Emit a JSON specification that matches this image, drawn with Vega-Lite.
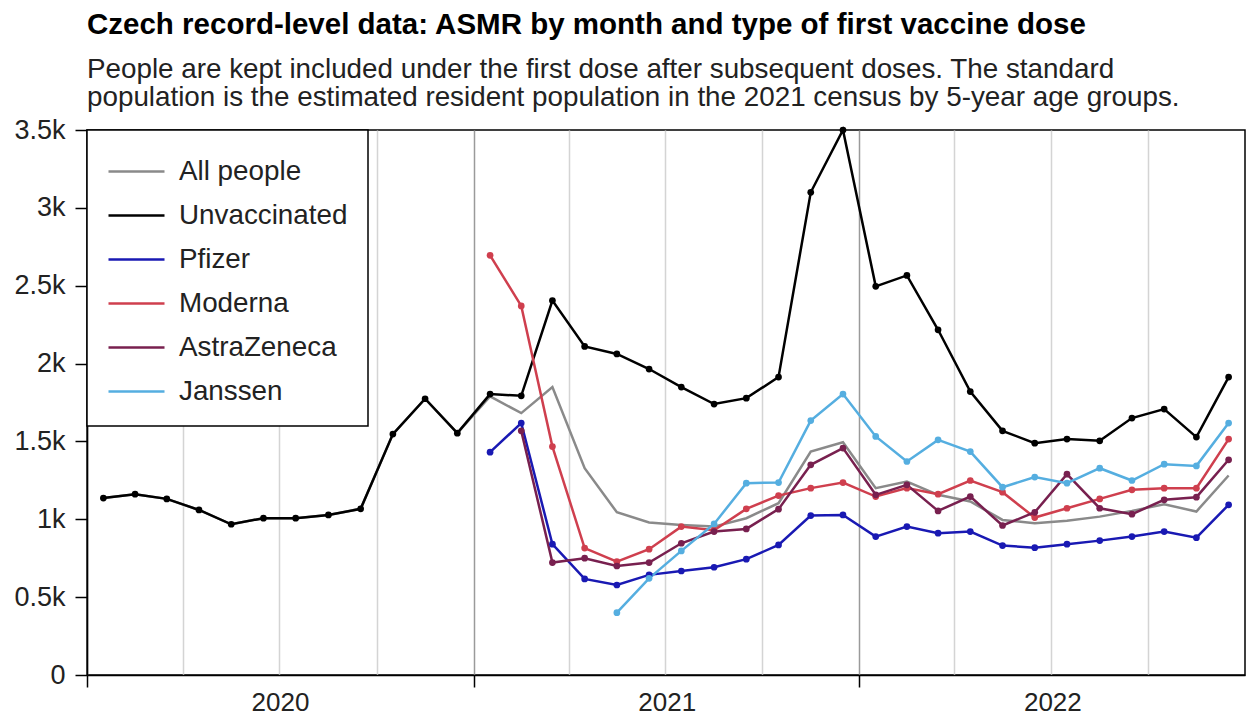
{
  "$schema": "https://vega.github.io/schema/vega-lite/v6.json",
  "autosize": "none",
  "width": 1158,
  "height": 545,
  "padding": {"left": 87, "top": 130, "right": 1, "bottom": 42},
  "background": "white",
  "title": {
    "text": "Czech record-level data: ASMR by month and type of first vaccine dose",
    "subtitle": ["People are kept included under the first dose after subsequent doses. The standard", "population is the estimated resident population in the 2021 census by 5-year age groups."],
    "anchor": "start",
    "frame": "group",
    "font": "Liberation Sans",
    "fontSize": 29.5,
    "fontWeight": "bold",
    "color": "black",
    "subtitleFont": "Liberation Sans",
    "subtitleFontSize": 27.8,
    "subtitleColor": "#222222",
    "subtitleLineHeight": 28,
    "subtitlePadding": 16,
    "offset": 3
  },
  "config": {
    "font": "Liberation Sans",
    "view": {"stroke": "black", "strokeWidth": 1.5},
    "axis": {
      "labelFont": "Liberation Sans",
      "labelFontSize": 27,
      "labelColor": "#222222",
      "domainColor": "black",
      "domainWidth": 1.5,
      "tickColor": "black",
      "tickWidth": 1.5,
      "title": null
    },
    "legend": {
      "orient": "top-left",
      "offset": 0,
      "padding": 20,
      "strokeColor": "black",
      "fillColor": "white",
      "strokeWidth": 1.5,
      "symbolType": "M-1,0H1.8",
      "symbolSize": 1600,
      "symbolStrokeWidth": 2.5,
      "labelFont": "Liberation Sans",
      "labelFontSize": 27.8,
      "labelColor": "#222222",
      "labelOffset": 29,
      "rowPadding": 8,
      "labelLimit": 400
    }
  },
  "data": {
    "values": [
      {"s": "All people", "m": "2020-01-15", "v": 1136},
      {"s": "All people", "m": "2020-02-15", "v": 1161},
      {"s": "All people", "m": "2020-03-15", "v": 1131},
      {"s": "All people", "m": "2020-04-15", "v": 1060},
      {"s": "All people", "m": "2020-05-15", "v": 968},
      {"s": "All people", "m": "2020-06-15", "v": 1007},
      {"s": "All people", "m": "2020-07-15", "v": 1007},
      {"s": "All people", "m": "2020-08-15", "v": 1028},
      {"s": "All people", "m": "2020-09-15", "v": 1067},
      {"s": "All people", "m": "2020-10-15", "v": 1547},
      {"s": "All people", "m": "2020-11-15", "v": 1774},
      {"s": "All people", "m": "2020-12-15", "v": 1553},
      {"s": "All people", "m": "2021-01-15", "v": 1789},
      {"s": "All people", "m": "2021-02-15", "v": 1682},
      {"s": "All people", "m": "2021-03-15", "v": 1849},
      {"s": "All people", "m": "2021-04-15", "v": 1328},
      {"s": "All people", "m": "2021-05-15", "v": 1045},
      {"s": "All people", "m": "2021-06-15", "v": 979},
      {"s": "All people", "m": "2021-07-15", "v": 964},
      {"s": "All people", "m": "2021-08-15", "v": 953},
      {"s": "All people", "m": "2021-09-15", "v": 1007},
      {"s": "All people", "m": "2021-10-15", "v": 1103},
      {"s": "All people", "m": "2021-11-15", "v": 1435},
      {"s": "All people", "m": "2021-12-15", "v": 1495},
      {"s": "All people", "m": "2022-01-15", "v": 1200},
      {"s": "All people", "m": "2022-02-15", "v": 1242},
      {"s": "All people", "m": "2022-03-15", "v": 1157},
      {"s": "All people", "m": "2022-04-15", "v": 1114},
      {"s": "All people", "m": "2022-05-15", "v": 996},
      {"s": "All people", "m": "2022-06-15", "v": 975},
      {"s": "All people", "m": "2022-07-15", "v": 990},
      {"s": "All people", "m": "2022-08-15", "v": 1017},
      {"s": "All people", "m": "2022-09-15", "v": 1054},
      {"s": "All people", "m": "2022-10-15", "v": 1097},
      {"s": "All people", "m": "2022-11-15", "v": 1050},
      {"s": "All people", "m": "2022-12-15", "v": 1281},

      {"s": "Unvaccinated", "m": "2020-01-15", "v": 1136},
      {"s": "Unvaccinated", "m": "2020-02-15", "v": 1161},
      {"s": "Unvaccinated", "m": "2020-03-15", "v": 1131},
      {"s": "Unvaccinated", "m": "2020-04-15", "v": 1060},
      {"s": "Unvaccinated", "m": "2020-05-15", "v": 968},
      {"s": "Unvaccinated", "m": "2020-06-15", "v": 1007},
      {"s": "Unvaccinated", "m": "2020-07-15", "v": 1007},
      {"s": "Unvaccinated", "m": "2020-08-15", "v": 1028},
      {"s": "Unvaccinated", "m": "2020-09-15", "v": 1067},
      {"s": "Unvaccinated", "m": "2020-10-15", "v": 1547},
      {"s": "Unvaccinated", "m": "2020-11-15", "v": 1774},
      {"s": "Unvaccinated", "m": "2020-12-15", "v": 1553},
      {"s": "Unvaccinated", "m": "2021-01-15", "v": 1804},
      {"s": "Unvaccinated", "m": "2021-02-15", "v": 1793},
      {"s": "Unvaccinated", "m": "2021-03-15", "v": 2405},
      {"s": "Unvaccinated", "m": "2021-04-15", "v": 2110},
      {"s": "Unvaccinated", "m": "2021-05-15", "v": 2062},
      {"s": "Unvaccinated", "m": "2021-06-15", "v": 1965},
      {"s": "Unvaccinated", "m": "2021-07-15", "v": 1849},
      {"s": "Unvaccinated", "m": "2021-08-15", "v": 1740},
      {"s": "Unvaccinated", "m": "2021-09-15", "v": 1778},
      {"s": "Unvaccinated", "m": "2021-10-15", "v": 1913},
      {"s": "Unvaccinated", "m": "2021-11-15", "v": 3100},
      {"s": "Unvaccinated", "m": "2021-12-15", "v": 3500},
      {"s": "Unvaccinated", "m": "2022-01-15", "v": 2496},
      {"s": "Unvaccinated", "m": "2022-02-15", "v": 2566},
      {"s": "Unvaccinated", "m": "2022-03-15", "v": 2217},
      {"s": "Unvaccinated", "m": "2022-04-15", "v": 1820},
      {"s": "Unvaccinated", "m": "2022-05-15", "v": 1568},
      {"s": "Unvaccinated", "m": "2022-06-15", "v": 1489},
      {"s": "Unvaccinated", "m": "2022-07-15", "v": 1515},
      {"s": "Unvaccinated", "m": "2022-08-15", "v": 1504},
      {"s": "Unvaccinated", "m": "2022-09-15", "v": 1650},
      {"s": "Unvaccinated", "m": "2022-10-15", "v": 1708},
      {"s": "Unvaccinated", "m": "2022-11-15", "v": 1528},
      {"s": "Unvaccinated", "m": "2022-12-15", "v": 1913},

      {"s": "Pfizer", "m": "2021-01-15", "v": 1431},
      {"s": "Pfizer", "m": "2021-02-15", "v": 1618},
      {"s": "Pfizer", "m": "2021-03-15", "v": 840},
      {"s": "Pfizer", "m": "2021-04-15", "v": 617},
      {"s": "Pfizer", "m": "2021-05-15", "v": 578},
      {"s": "Pfizer", "m": "2021-06-15", "v": 643},
      {"s": "Pfizer", "m": "2021-07-15", "v": 668},
      {"s": "Pfizer", "m": "2021-08-15", "v": 692},
      {"s": "Pfizer", "m": "2021-09-15", "v": 744},
      {"s": "Pfizer", "m": "2021-10-15", "v": 835},
      {"s": "Pfizer", "m": "2021-11-15", "v": 1024},
      {"s": "Pfizer", "m": "2021-12-15", "v": 1028},
      {"s": "Pfizer", "m": "2022-01-15", "v": 889},
      {"s": "Pfizer", "m": "2022-02-15", "v": 953},
      {"s": "Pfizer", "m": "2022-03-15", "v": 911},
      {"s": "Pfizer", "m": "2022-04-15", "v": 921},
      {"s": "Pfizer", "m": "2022-05-15", "v": 831},
      {"s": "Pfizer", "m": "2022-06-15", "v": 818},
      {"s": "Pfizer", "m": "2022-07-15", "v": 840},
      {"s": "Pfizer", "m": "2022-08-15", "v": 863},
      {"s": "Pfizer", "m": "2022-09-15", "v": 889},
      {"s": "Pfizer", "m": "2022-10-15", "v": 921},
      {"s": "Pfizer", "m": "2022-11-15", "v": 882},
      {"s": "Pfizer", "m": "2022-12-15", "v": 1093},

      {"s": "Moderna", "m": "2021-01-15", "v": 2695},
      {"s": "Moderna", "m": "2021-02-15", "v": 2370},
      {"s": "Moderna", "m": "2021-03-15", "v": 1467},
      {"s": "Moderna", "m": "2021-04-15", "v": 815},
      {"s": "Moderna", "m": "2021-05-15", "v": 728},
      {"s": "Moderna", "m": "2021-06-15", "v": 808},
      {"s": "Moderna", "m": "2021-07-15", "v": 953},
      {"s": "Moderna", "m": "2021-08-15", "v": 930},
      {"s": "Moderna", "m": "2021-09-15", "v": 1067},
      {"s": "Moderna", "m": "2021-10-15", "v": 1152},
      {"s": "Moderna", "m": "2021-11-15", "v": 1200},
      {"s": "Moderna", "m": "2021-12-15", "v": 1236},
      {"s": "Moderna", "m": "2022-01-15", "v": 1146},
      {"s": "Moderna", "m": "2022-02-15", "v": 1200},
      {"s": "Moderna", "m": "2022-03-15", "v": 1161},
      {"s": "Moderna", "m": "2022-04-15", "v": 1249},
      {"s": "Moderna", "m": "2022-05-15", "v": 1174},
      {"s": "Moderna", "m": "2022-06-15", "v": 1011},
      {"s": "Moderna", "m": "2022-07-15", "v": 1071},
      {"s": "Moderna", "m": "2022-08-15", "v": 1131},
      {"s": "Moderna", "m": "2022-09-15", "v": 1189},
      {"s": "Moderna", "m": "2022-10-15", "v": 1200},
      {"s": "Moderna", "m": "2022-11-15", "v": 1200},
      {"s": "Moderna", "m": "2022-12-15", "v": 1515},

      {"s": "AstraZeneca", "m": "2021-02-15", "v": 1568},
      {"s": "AstraZeneca", "m": "2021-03-15", "v": 722},
      {"s": "AstraZeneca", "m": "2021-04-15", "v": 750},
      {"s": "AstraZeneca", "m": "2021-05-15", "v": 700},
      {"s": "AstraZeneca", "m": "2021-06-15", "v": 722},
      {"s": "AstraZeneca", "m": "2021-07-15", "v": 846},
      {"s": "AstraZeneca", "m": "2021-08-15", "v": 921},
      {"s": "AstraZeneca", "m": "2021-09-15", "v": 938},
      {"s": "AstraZeneca", "m": "2021-10-15", "v": 1065},
      {"s": "AstraZeneca", "m": "2021-11-15", "v": 1350},
      {"s": "AstraZeneca", "m": "2021-12-15", "v": 1457},
      {"s": "AstraZeneca", "m": "2022-01-15", "v": 1157},
      {"s": "AstraZeneca", "m": "2022-02-15", "v": 1221},
      {"s": "AstraZeneca", "m": "2022-03-15", "v": 1054},
      {"s": "AstraZeneca", "m": "2022-04-15", "v": 1146},
      {"s": "AstraZeneca", "m": "2022-05-15", "v": 960},
      {"s": "AstraZeneca", "m": "2022-06-15", "v": 1045},
      {"s": "AstraZeneca", "m": "2022-07-15", "v": 1290},
      {"s": "AstraZeneca", "m": "2022-08-15", "v": 1071},
      {"s": "AstraZeneca", "m": "2022-09-15", "v": 1033},
      {"s": "AstraZeneca", "m": "2022-10-15", "v": 1125},
      {"s": "AstraZeneca", "m": "2022-11-15", "v": 1142},
      {"s": "AstraZeneca", "m": "2022-12-15", "v": 1382},

      {"s": "Janssen", "m": "2021-05-15", "v": 400},
      {"s": "Janssen", "m": "2021-06-15", "v": 621},
      {"s": "Janssen", "m": "2021-07-15", "v": 797},
      {"s": "Janssen", "m": "2021-08-15", "v": 970},
      {"s": "Janssen", "m": "2021-09-15", "v": 1232},
      {"s": "Janssen", "m": "2021-10-15", "v": 1236},
      {"s": "Janssen", "m": "2021-11-15", "v": 1634},
      {"s": "Janssen", "m": "2021-12-15", "v": 1804},
      {"s": "Janssen", "m": "2022-01-15", "v": 1532},
      {"s": "Janssen", "m": "2022-02-15", "v": 1371},
      {"s": "Janssen", "m": "2022-03-15", "v": 1510},
      {"s": "Janssen", "m": "2022-04-15", "v": 1435},
      {"s": "Janssen", "m": "2022-05-15", "v": 1206},
      {"s": "Janssen", "m": "2022-06-15", "v": 1271},
      {"s": "Janssen", "m": "2022-07-15", "v": 1232},
      {"s": "Janssen", "m": "2022-08-15", "v": 1328},
      {"s": "Janssen", "m": "2022-09-15", "v": 1249},
      {"s": "Janssen", "m": "2022-10-15", "v": 1354},
      {"s": "Janssen", "m": "2022-11-15", "v": 1343},
      {"s": "Janssen", "m": "2022-12-15", "v": 1618}
    ]
  },
  "encoding": {
    "y": {
      "field": "v",
      "type": "quantitative",
      "scale": {"domain": [0, 3500], "nice": false, "zero": true},
      "axis": {
        "values": [0, 500, 1000, 1500, 2000, 2500, 3000, 3500],
        "labelExpr": "datum.value == 0 ? '0' : (datum.value / 1000) + 'k'",
        "grid": false,
        "tickSize": 12,
        "labelPadding": 10,
        "title": null
      }
    },
    "color": {
      "field": "s",
      "type": "nominal",
      "scale": {
        "domain": ["All people", "Unvaccinated", "Pfizer", "Moderna", "AstraZeneca", "Janssen"],
        "range": ["#8a8a8a", "#000000", "#1919b3", "#cf3f4e", "#78204f", "#55aee0"]
      },
      "legend": {"title": null}
    }
  },
  "layer": [
    {
      "transform": [{"filter": "datum.s == 'All people'"}],
      "mark": {"type": "line", "strokeWidth": 2.5},
      "encoding": {
        "x": {
          "field": "m",
          "type": "temporal",
          "timeUnit": "utcyearmonth",
          "bandPosition": 0.5,
          "scale": {
            "domain": [{"year": 2020, "month": 1, "date": 1, "utc": true}, {"year": 2023, "month": 1, "date": 1, "utc": true}],
            "nice": false
          },
          "axis": {
            "orient": "top",
            "values": [
              {"year": 2020, "month": 4, "date": 1, "utc": true},
              {"year": 2020, "month": 7, "date": 1, "utc": true},
              {"year": 2020, "month": 10, "date": 1, "utc": true},
              {"year": 2021, "month": 4, "date": 1, "utc": true},
              {"year": 2021, "month": 7, "date": 1, "utc": true},
              {"year": 2021, "month": 10, "date": 1, "utc": true},
              {"year": 2022, "month": 4, "date": 1, "utc": true},
              {"year": 2022, "month": 7, "date": 1, "utc": true},
              {"year": 2022, "month": 10, "date": 1, "utc": true}
            ],
            "labels": false,
            "ticks": false,
            "domain": false,
            "grid": true,
            "gridColor": "#d4d4d4",
            "gridWidth": 1.5,
            "title": null
          }
        }
      }
    },
    {
      "transform": [{"filter": "datum.s != 'All people'"}],
      "mark": {"type": "line", "strokeWidth": 2.5, "point": {"filled": true, "size": 45}},
      "encoding": {
        "x": {
          "field": "m",
          "type": "temporal",
          "timeUnit": "utcyearmonth",
          "bandPosition": 0.5,
          "scale": {
            "domain": [{"year": 2020, "month": 1, "date": 1, "utc": true}, {"year": 2023, "month": 1, "date": 1, "utc": true}],
            "nice": false
          },
          "axis": {
            "orient": "bottom",
            "values": [
              {"year": 2020, "month": 1, "date": 1, "utc": true},
              {"year": 2021, "month": 1, "date": 1, "utc": true},
              {"year": 2022, "month": 1, "date": 1, "utc": true}
            ],
            "format": "%Y",
            "labelOffset": 193,
            "labelAlign": "center",
            "labelFontSize": 26,
            "tickSize": 12,
            "labelPadding": 2,
            "grid": true,
            "gridColor": "#9a9a9a",
            "gridWidth": 1.5,
            "title": null
          }
        }
      }
    }
  ],
  "resolve": {"axis": {"x": "independent"}}
}
